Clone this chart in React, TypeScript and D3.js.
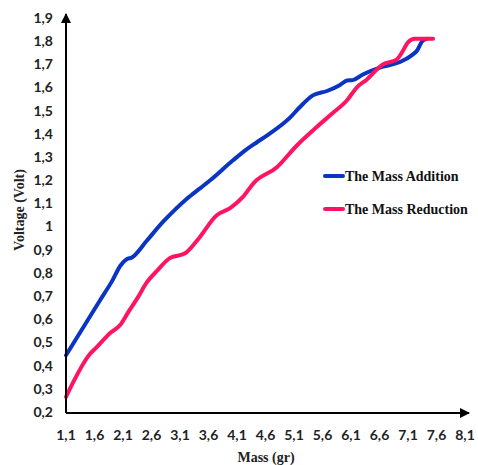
import React from "react";
import * as d3 from "d3";

// Mass (gr) and measured voltage (V) for each run
const massAddition = [1.1, 1.7, 1.92, 2.05, 2.17, 2.25, 2.52, 2.8, 3.0, 3.22, 3.45, 3.63, 4.03, 4.25, 4.45, 4.63, 5.03, 5.2, 5.43, 5.68, 5.9, 6.03, 6.13, 6.3, 6.66, 6.96, 7.17, 7.26, 7.35, 7.43];
const voltageAddition = [0.445, 0.683, 0.77, 0.83, 0.86, 0.866, 0.94, 1.02, 1.07, 1.12, 1.165, 1.2, 1.286, 1.33, 1.364, 1.394, 1.47, 1.515, 1.566, 1.585, 1.61, 1.63, 1.632, 1.655, 1.69, 1.71, 1.74, 1.76, 1.8, 1.81];

const massReduction = [1.1, 1.52, 1.64, 1.87, 2.05, 2.19, 2.35, 2.52, 2.7, 2.92, 3.19, 3.4, 3.75, 3.98, 4.2, 4.4, 4.8, 5.15, 5.5, 5.78, 6.03, 6.2, 6.38, 6.66, 6.9, 6.99, 7.1, 7.22, 7.54];
const voltageReduction = [0.265, 0.45, 0.48, 0.54, 0.575, 0.63, 0.69, 0.76, 0.81, 0.864, 0.885, 0.94, 1.05, 1.08, 1.127, 1.19, 1.256, 1.35, 1.43, 1.49, 1.545, 1.6, 1.635, 1.7, 1.72, 1.75, 1.795, 1.81, 1.81];

const xTicks = [1.1, 1.6, 2.1, 2.6, 3.1, 3.6, 4.1, 4.6, 5.1, 5.6, 6.1, 6.6, 7.1, 7.6, 8.1];
const yTicks = [0.2, 0.3, 0.4, 0.5, 0.6, 0.7, 0.8, 0.9, 1.0, 1.1, 1.2, 1.3, 1.4, 1.5, 1.6, 1.7, 1.8, 1.9];

const seriesNames = ["The Mass Addition", "The Mass Reduction"];
const seriesColors = ["#0a34c4", "#ff1462"];

const W = 478;
const H = 465;

const x = d3.scaleLinear().domain([1.1, 8.1]).range([66, 465]);
const y = d3.scaleLinear().domain([0.2, 1.9]).range([412, 18]);

const fmt = (v: number) => {
  const s = d3.format(".1f")(v);
  return s.endsWith(".0") ? s.slice(0, -2) : s.replace(".", ",");
};

const line = d3
  .line<[number, number]>()
  .x((d) => x(d[0]))
  .y((d) => y(d[1]))
  .curve(d3.curveMonotoneX);

export default function App() {
  const series = [
    d3.zip(massAddition, voltageAddition) as [number, number][],
    d3.zip(massReduction, voltageReduction) as [number, number][],
  ];
  const tickFont = "Lato, 'Liberation Sans', sans-serif";
  const serif = "'Liberation Serif', 'Times New Roman', serif";
  return (
    <svg
      width={W}
      height={H}
      style={{ position: "absolute", left: 0, top: 0, background: "#fff" }}
    >
      <defs>
        <marker id="arrow" viewBox="0 0 10 10" refX="9" refY="5" markerWidth="5" markerHeight="5" orient="auto">
          <path d="M0,0 L10,5 L0,10 z" fill="#000" />
        </marker>
      </defs>

      {/* series */}
      {series.map((d, i) => (
        <path
          key={i}
          d={line(d) || ""}
          fill="none"
          stroke={seriesColors[i]}
          strokeWidth={4}
          strokeLinejoin="round"
          strokeLinecap="round"
        />
      ))}

      {/* axes */}
      <line x1={x(1.1)} y1={413} x2={x(1.1)} y2={14} stroke="#000" strokeWidth={2} markerEnd="url(#arrow)" />
      <line x1={x(1.1)} y1={413} x2={469} y2={413} stroke="#000" strokeWidth={2} markerEnd="url(#arrow)" />

      {yTicks.map((t) => (
        <text
          key={t}
          x={53}
          y={y(t)}
          dy="0.35em"
          textAnchor="end"
          fontFamily={tickFont}
          fontWeight="bold"
          fontSize={14}
          fill="#222"
        >
          {fmt(t)}
        </text>
      ))}
      {xTicks.map((t) => (
        <text
          key={t}
          x={x(t)}
          y={440}
          textAnchor="middle"
          fontFamily={tickFont}
          fontWeight="bold"
          fontSize={14}
          fill="#222"
        >
          {fmt(t)}
        </text>
      ))}

      <text
        transform={`translate(24,210) rotate(-90)`}
        textAnchor="middle"
        fontFamily={serif}
        fontWeight="bold"
        fontSize={14}
        fill="#222"
      >
        Voltage (Volt)
      </text>
      <text x={266} y={462} textAnchor="middle" fontFamily={serif} fontWeight="bold" fontSize={14} fill="#222">
        Mass (gr)
      </text>

      {/* legend */}
      {seriesNames.map((name, i) => (
        <g key={name} transform={`translate(0,${176 + i * 33})`}>
          <line x1={325} x2={343} y1={0} y2={0} stroke={seriesColors[i]} strokeWidth={4} strokeLinecap="round" />
          <text x={345} y={0} dy="0.35em" fontFamily={serif} fontWeight="bold" fontSize={14} fill="#111">
            {name}
          </text>
        </g>
      ))}
    </svg>
  );
}
